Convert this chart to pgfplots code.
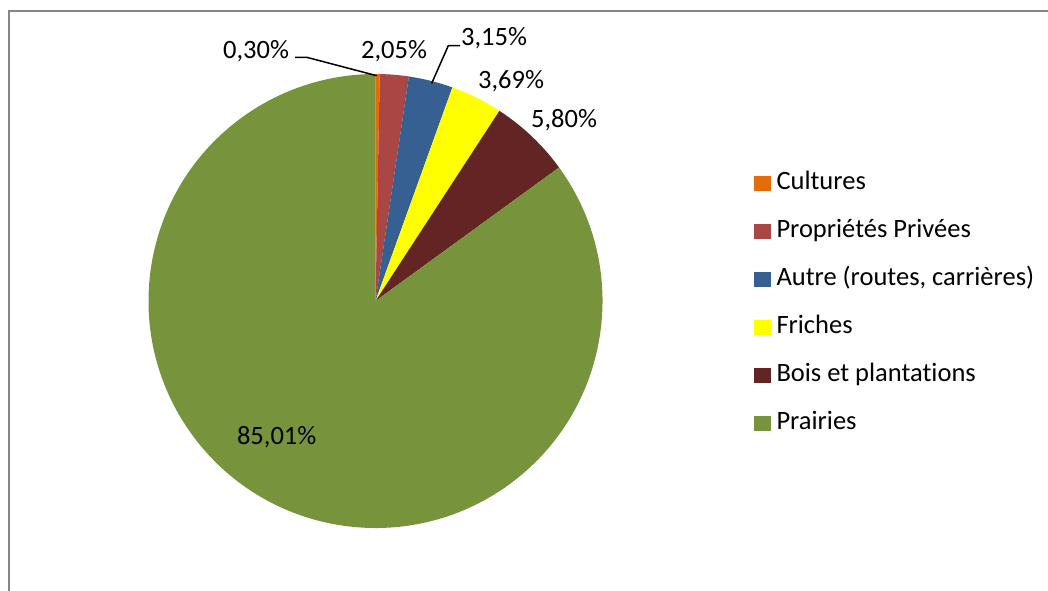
\documentclass[border=0pt]{standalone}
\usepackage{pgfplots}
\pgfplotsset{compat=1.18}
\usepackage{pgfplotstable}
\usepackage{fontspec}
\setmainfont{Carlito}[Ligatures=NoCommon]
\definecolor{cCult}{HTML}{E46C0A}
\definecolor{cProp}{HTML}{AA4643}
\definecolor{cAutre}{HTML}{376092}
\definecolor{cFriche}{HTML}{FFFF00}
\definecolor{cBois}{HTML}{632523}
\definecolor{cPrai}{HTML}{77933C}
\definecolor{cFrame}{HTML}{868686}

\pgfplotstableread{
pct
0.30
2.05
3.15
3.69
5.80
85.01
}\piedata

\begin{document}
\fontsize{10.6}{12.7}\selectfont
\begin{tikzpicture}
\pgfplotstablegetelem{0}{pct}\of\piedata\let\pA\pgfplotsretval
\pgfplotstablegetelem{1}{pct}\of\piedata\let\pB\pgfplotsretval
\pgfplotstablegetelem{2}{pct}\of\piedata\let\pC\pgfplotsretval
\pgfplotstablegetelem{3}{pct}\of\piedata\let\pD\pgfplotsretval
\pgfplotstablegetelem{4}{pct}\of\piedata\let\pE\pgfplotsretval
\pgfplotstablegetelem{5}{pct}\of\piedata\let\pF\pgfplotsretval
\pgfmathsetmacro\aO{90}
\pgfmathsetmacro\aA{\aO-3.6*\pA}
\pgfmathsetmacro\aB{\aA-3.6*\pB}
\pgfmathsetmacro\aC{\aB-3.6*\pC}
\pgfmathsetmacro\aD{\aC-3.6*\pD}
\pgfmathsetmacro\aE{\aD-3.6*\pE}
\pgfmathsetmacro\aF{\aE-3.6*\pF}
\begin{scope}[x=0.4pt,y=-0.4pt]
\useasboundingbox (0,0) rectangle (1048,591);
\draw[cFrame, line width=0.9pt] (9,600) -- (9,11) -- (1060,11);
\end{scope}
\begin{axis}[at={(150.2pt,-120.4pt)}, anchor=origin, width=181.6pt, height=181.6pt,
  scale only axis, xmin=-1, xmax=1, ymin=-1, ymax=1, hide axis, clip=false]
\fill[cCult] (axis cs:0,0) -- (axis cs:{cos(\aO)},{sin(\aO)}) arc[start angle=\aO, end angle=\aA, radius=90.8pt] -- cycle;
\fill[cProp] (axis cs:0,0) -- (axis cs:{cos(\aA)},{sin(\aA)}) arc[start angle=\aA, end angle=\aB, radius=90.8pt] -- cycle;
\fill[cAutre] (axis cs:0,0) -- (axis cs:{cos(\aB)},{sin(\aB)}) arc[start angle=\aB, end angle=\aC, radius=90.8pt] -- cycle;
\fill[cFriche] (axis cs:0,0) -- (axis cs:{cos(\aC)},{sin(\aC)}) arc[start angle=\aC, end angle=\aD, radius=90.8pt] -- cycle;
\fill[cBois] (axis cs:0,0) -- (axis cs:{cos(\aD)},{sin(\aD)}) arc[start angle=\aD, end angle=\aE, radius=90.8pt] -- cycle;
\fill[cPrai] (axis cs:0,0) -- (axis cs:{cos(\aE)},{sin(\aE)}) arc[start angle=\aE, end angle=\aF, radius=90.8pt] -- cycle;
\end{axis}
\begin{scope}[x=0.4pt,y=-0.4pt]
% leader lines
\draw[black, line width=0.6pt] (295,57.3) -- (306.7,57.3) -- (376.7,75.7);
\draw[black, line width=0.6pt] (460,45.7) -- (448.3,45.7) -- (431.7,83.3);
% data labels
\node[anchor=base, inner sep=0pt] at (256,58.3) {0,30\%};
\node[anchor=base, inner sep=0pt] at (394,58.3) {2,05\%};
\node[anchor=base, inner sep=0pt] at (494,46) {3,15\%};
\node[anchor=base, inner sep=0pt] at (511,88.3) {3,69\%};
\node[anchor=base, inner sep=0pt] at (564,127.3) {5,80\%};
\node[anchor=base, inner sep=0pt] at (276.7,445) {85,01\%};
% legend
\fill[cCult]   (754,176) rectangle (771,191);
\fill[cProp]   (754,224) rectangle (771,239);
\fill[cAutre]  (754,272) rectangle (771,287);
\fill[cFriche] (754,320) rectangle (771,335);
\fill[cBois]   (754,368) rectangle (771,383);
\fill[cPrai]   (754,416) rectangle (771,431);
\node[anchor=base west, inner sep=0pt] at (776,190) {Cultures};
\node[anchor=base west, inner sep=0pt] at (776,238) {Propriétés Privées};
\node[anchor=base west, inner sep=0pt] at (776,286) {Autre (routes, carrières)};
\node[anchor=base west, inner sep=0pt] at (776,334) {Friches};
\node[anchor=base west, inner sep=0pt] at (776,382) {Bois et plantations};
\node[anchor=base west, inner sep=0pt] at (776,430) {Prairies};
\end{scope}
\end{tikzpicture}
\end{document}
